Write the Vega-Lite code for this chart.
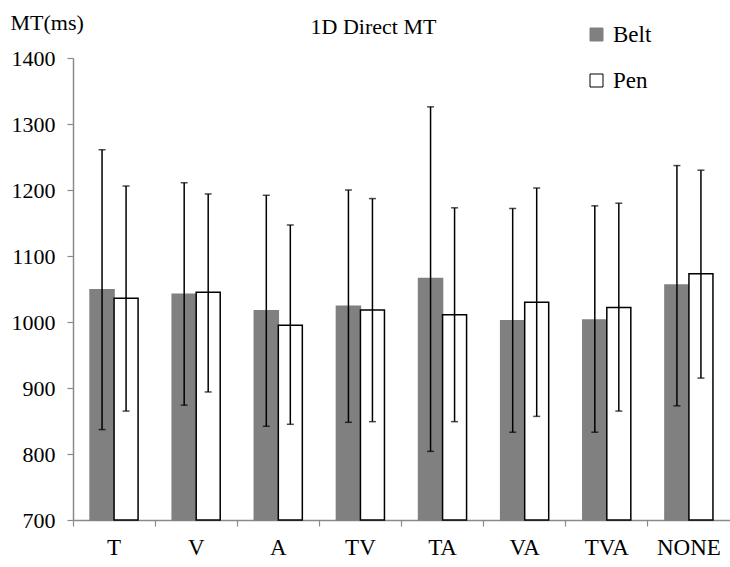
{
  "$schema": "https://vega.github.io/schema/vega-lite/v6.json",
  "autosize": "none",
  "width": 657,
  "height": 462,
  "padding": {"left": 73, "top": 58, "right": 0, "bottom": 47},
  "background": "white",
  "config": {
    "font": "Liberation Serif",
    "view": {"stroke": null},
    "axis": {"labelFont": "Liberation Serif", "titleFont": "Liberation Serif", "labelColor": "black", "titleColor": "black", "grid": false, "domainColor": "#8a8a8a", "tickColor": "#8a8a8a", "domainWidth": 1.5, "tickWidth": 1.2},
    "legend": {"labelFont": "Liberation Serif"},
    "title": {"font": "Liberation Serif"}
  },
  "title": {"text": "1D Direct MT", "fontSize": 22, "fontWeight": "normal", "font": "Liberation Serif", "color": "black", "anchor": "middle", "frame": "group", "dx": -28, "offset": -28},
  "data": {
    "values": [
      {"cond": "T", "group": "Belt", "mean": 1049, "lo": 837, "hi": 1261},
      {"cond": "T", "group": "Pen", "mean": 1036, "lo": 865, "hi": 1206},
      {"cond": "V", "group": "Belt", "mean": 1042, "lo": 874, "hi": 1211},
      {"cond": "V", "group": "Pen", "mean": 1045, "lo": 894, "hi": 1194},
      {"cond": "A", "group": "Belt", "mean": 1017, "lo": 842, "hi": 1192},
      {"cond": "A", "group": "Pen", "mean": 995, "lo": 845, "hi": 1147},
      {"cond": "TV", "group": "Belt", "mean": 1024, "lo": 848, "hi": 1200},
      {"cond": "TV", "group": "Pen", "mean": 1018, "lo": 849, "hi": 1187},
      {"cond": "TA", "group": "Belt", "mean": 1066, "lo": 804, "hi": 1326},
      {"cond": "TA", "group": "Pen", "mean": 1011, "lo": 849, "hi": 1173},
      {"cond": "VA", "group": "Belt", "mean": 1002, "lo": 833, "hi": 1172},
      {"cond": "VA", "group": "Pen", "mean": 1030, "lo": 857, "hi": 1203},
      {"cond": "TVA", "group": "Belt", "mean": 1003, "lo": 833, "hi": 1176},
      {"cond": "TVA", "group": "Pen", "mean": 1022, "lo": 865, "hi": 1180},
      {"cond": "NONE", "group": "Belt", "mean": 1056, "lo": 873, "hi": 1237},
      {"cond": "NONE", "group": "Pen", "mean": 1073, "lo": 915, "hi": 1230}
    ]
  },
  "encoding": {
    "x": {
      "field": "cond", "type": "nominal", "sort": ["T", "V", "A", "TV", "TA", "VA", "TVA", "NONE"],
      "scale": {"paddingInner": 0, "paddingOuter": 0},
      "axis": {"title": null, "labelAngle": 0, "labelFontSize": 23, "labelFont": "Liberation Serif", "bandPosition": 0, "tickSize": 6, "labelPadding": 10, "ticks": true}
    },
    "xOffset": {"field": "group", "type": "nominal", "sort": ["Belt", "Pen"], "scale": {"paddingInner": 0, "paddingOuter": 0.71}}
  },
  "layer": [
    {
      "mark": {"type": "bar", "strokeWidth": 1.5},
      "encoding": {
        "y": {
          "field": "mean", "type": "quantitative",
          "scale": {"domain": [700, 1400], "zero": false, "nice": false},
          "axis": {"title": "MT(ms)", "format": "d", "values": [700, 800, 900, 1000, 1100, 1200, 1300, 1400], "labelFontSize": 22, "labelFont": "Liberation Serif", "tickSize": 6, "labelPadding": 12, "titleAngle": 0, "titleFontSize": 22, "titleFontWeight": "normal", "titleX": -63, "titleY": -36, "titleAlign": "left", "titleBaseline": "middle"}
        },
        "y2": {"datum": 700},
        "color": {
          "field": "group", "type": "nominal", "sort": ["Belt", "Pen"],
          "scale": {"domain": ["Belt", "Pen"], "range": ["#808080", "#ffffff"]},
          "legend": {"title": null, "orient": "none", "legendX": 512, "legendY": -35, "symbolType": "square", "symbolSize": 169, "labelFontSize": 23, "labelFont": "Liberation Serif", "labelColor": "black", "labelOffset": 5, "rowPadding": 22, "padding": 0, "symbolStrokeWidth": 1, "symbolOpacity": 1}
        },
        "stroke": {
          "field": "group", "type": "nominal", "sort": ["Belt", "Pen"],
          "scale": {"domain": ["Belt", "Pen"], "range": ["#808080", "#000000"]},
          "legend": {"title": null, "orient": "none", "legendX": 512, "legendY": -35, "symbolType": "square", "symbolSize": 169, "labelFontSize": 23, "labelFont": "Liberation Serif", "labelColor": "black", "labelOffset": 5, "rowPadding": 22, "padding": 0, "symbolStrokeWidth": 1, "symbolOpacity": 1}
        }
      }
    },
    {
      "mark": {"type": "rule", "color": "black", "strokeWidth": 1.5},
      "encoding": {
        "y": {"field": "lo", "type": "quantitative"},
        "y2": {"field": "hi"}
      }
    },
    {
      "mark": {"type": "tick", "color": "black", "thickness": 1.5, "size": 7, "orient": "horizontal"},
      "encoding": {"y": {"field": "hi", "type": "quantitative"}}
    },
    {
      "mark": {"type": "tick", "color": "black", "thickness": 1.5, "size": 7, "orient": "horizontal"},
      "encoding": {"y": {"field": "lo", "type": "quantitative"}}
    }
  ]
}
